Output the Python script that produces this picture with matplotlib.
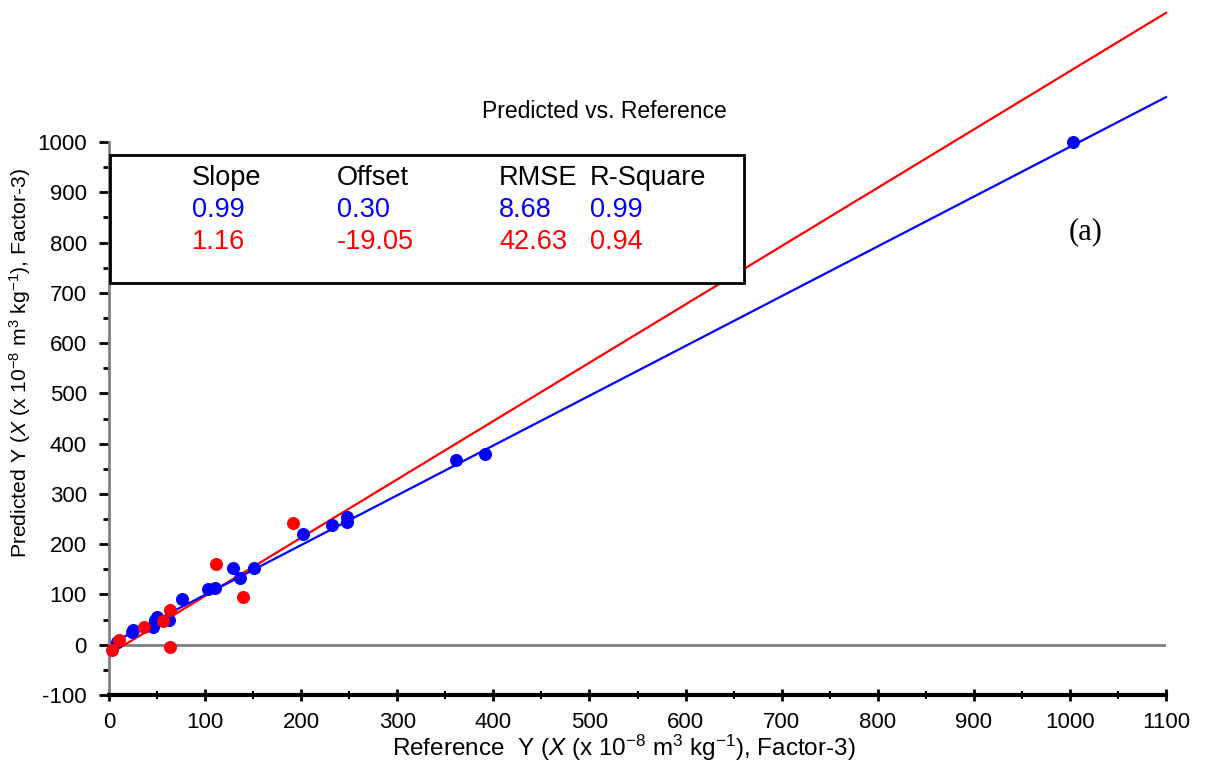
import matplotlib
matplotlib.use('Agg')
import matplotlib.pyplot as plt
from matplotlib.patches import Rectangle
from matplotlib.ticker import MultipleLocator

plt.rcParams['font.family'] = ['Liberation Sans', 'DejaVu Sans']
plt.rcParams['mathtext.fontset'] = 'custom'
plt.rcParams['mathtext.rm'] = 'Liberation Sans'
plt.rcParams['mathtext.it'] = 'Liberation Sans:italic'

# data
blue_x = [8, 24, 25, 46, 48, 50, 62, 76, 103, 110, 129, 136, 151, 202, 232, 248, 248, 361, 391, 1003]
blue_y = [5, 25, 29, 35, 49, 56, 49, 91, 110, 112, 152, 132, 152, 221, 239, 244, 254, 367, 379, 1000]
red_x = [3, 10, 36, 56, 64, 64, 111, 139, 191]
red_y = [-11, 9, 35, 48, 70, -4, 160, 94, 243]

fit_blue = (0.99, 0.30)
fit_red = (1.16, -19.05)

headers = ['Slope', 'Offset', 'RMSE', 'R-Square']
row_blue = ['0.99', '0.30', '8.68', '0.99']
row_red = ['1.16', '-19.05', '42.63', '0.94']

W, H = 1207, 774
fig = plt.figure(figsize=(W / 100, H / 100), dpi=100)
ax = fig.add_axes([109 / W, 1 - 695 / H, (1166 - 109) / W, (695 - 142) / H])

ax.set_xlim(0, 1100)
ax.set_ylim(-100, 1000)

# zero line
ax.axhline(0, color='#808080', lw=2, zorder=1)

# regression lines, extended past the frame
xs = [0, 1100]
ax.plot(xs, [fit_red[0] * x + fit_red[1] for x in xs], color='red', lw=1.6, clip_on=False, zorder=2)
ax.plot(xs, [fit_blue[0] * x + fit_blue[1] for x in xs], color='blue', lw=1.6, clip_on=False, zorder=2)

ax.scatter(blue_x, blue_y, s=70, color='blue', zorder=3, clip_on=False)
ax.scatter(red_x, red_y, s=70, color='red', zorder=4, clip_on=False)

for s in ['top', 'right']:
    ax.spines[s].set_visible(False)
ax.spines['left'].set_color('#808080')
ax.spines['left'].set_linewidth(2)
ax.spines['bottom'].set_color('black')
ax.spines['bottom'].set_linewidth(3)

ax.xaxis.set_major_locator(MultipleLocator(100))
ax.xaxis.set_minor_locator(MultipleLocator(50))
ax.yaxis.set_major_locator(MultipleLocator(100))
ax.yaxis.set_minor_locator(MultipleLocator(50))
ax.yaxis.set_major_formatter(lambda v, p: f'{v:.0f}')
ax.xaxis.set_major_formatter(lambda v, p: f'{v:.0f}')
ax.tick_params(axis='y', which='major', direction='out', length=7, width=2, labelsize=16, pad=9)
ax.tick_params(axis='y', which='minor', direction='out', length=4, width=2)
ax.tick_params(axis='x', which='major', direction='inout', length=9, width=2, labelsize=16, pad=8)
ax.tick_params(axis='x', which='minor', direction='inout', length=6, width=1.5)

ax.set_xlabel(r'Reference  Y ($\it{X}$ (x 10$^{-8}$ m$^{3}$ kg$^{-1}$), Factor-3)', fontsize=17.5)
ax.set_ylabel(r'Predicted Y ($\it{X}$ (x 10$^{-8}$ m$^{3}$ kg$^{-1}$), Factor-3)', fontsize=15.2)
ax.xaxis.set_label_coords(0.487, -0.068)
ax.yaxis.set_label_coords(-0.072, 0.60)

fig.text(604 / W, 1 - 112 / H, 'Predicted vs. Reference', ha='center', va='center', fontsize=16.5)
fig.text(1086 / W, 1 - 232 / H, '(a)', ha='center', va='center', fontsize=22, family='Liberation Serif')

# stats box
box = Rectangle((110 / W, 1 - 283 / H), (744 - 110) / W, (283 - 155) / H, transform=fig.transFigure,
                facecolor='white', edgecolor='black', lw=2, zorder=10)
fig.patches.append(box)
col_x = [192, 337, 499, 590]
for cx, h, b, r in zip(col_x, headers, row_blue, row_red):
    fig.text(cx / W, 1 - 178 / H, h, ha='left', va='center', fontsize=19.5, color='black', zorder=11)
    fig.text(cx / W, 1 - 210 / H, b, ha='left', va='center', fontsize=19.5, color='blue', zorder=11)
    fig.text(cx / W, 1 - 242 / H, r, ha='left', va='center', fontsize=19.5, color='red', zorder=11)

fig.savefig('out.png', dpi=100)
